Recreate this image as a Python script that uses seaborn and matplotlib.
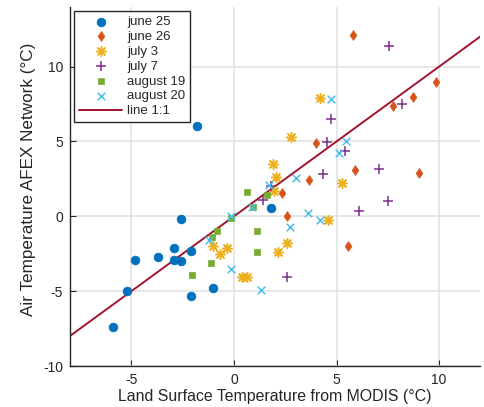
import matplotlib
matplotlib.use("Agg")
import matplotlib.pyplot as plt
import seaborn as sns
import pandas as pd

# Land surface temperature (MODIS) vs air temperature (AFEX network), per date
june25_x = [-2.6, -4.8, -3.7, -2.9, -2.9, -2.6, -2.1, -5.2, -5.9, -2.1, -1.8, 1.8, -1.0]
june25_y = [-0.2, -2.9, -2.7, -2.1, -2.95, -3.0, -2.3, -5.0, -7.4, -5.3, 6.05, 0.55, -4.8]

june26_x = [5.8, 9.85, 8.75, 7.75, 4.0, 5.9, 9.0, 3.65, 2.35, 2.6, 5.55]
june26_y = [12.1, 8.95, 7.95, 7.4, 4.9, 3.1, 2.9, 2.45, 1.55, 0.05, -1.95]

july3_x = [4.2, 2.8, 1.9, 2.05, 1.95, 5.25, 4.6, 2.6, 2.15, -1.0, -0.35, -0.7, 0.4, 0.65]
july3_y = [7.9, 5.3, 3.5, 2.65, 1.7, 2.2, -0.25, -1.8, -2.4, -1.95, -2.15, -2.55, -4.05, -4.05]

july7_x = [7.55, 8.2, 4.75, 4.55, 5.4, 4.35, 7.05, 7.5, 6.1, 1.4, 1.8, 2.6]
july7_y = [11.4, 7.5, 6.5, 4.95, 4.35, 2.85, 3.15, 1.0, 0.35, 1.1, 2.0, -4.05]

aug19_x = [0.65, 1.6, 0.95, -0.15, -0.85, -1.05, 1.1, 1.1, -1.1, -2.05]
aug19_y = [1.65, 1.4, 0.6, -0.1, -1.0, -1.35, -1.0, -2.4, -3.1, -3.9]

aug20_x = [4.75, 5.45, 5.1, 3.0, 1.7, 0.9, -0.15, 3.6, 4.2, 2.75, -1.2, -0.15, 1.3]
aug20_y = [7.85, 5.0, 4.2, 2.55, 2.1, 0.6, 0.0, 0.25, -0.25, -0.7, -1.55, -3.5, -4.9]

line_x = [-8, 12]
line_y = [-8, 12]

# upright diamond, narrower than it is tall
diamond = [(0, 1), (0.68, 0), (0, -1), (-0.68, 0), (0, 1)]

series = [
    ("june 25", june25_x, june25_y, "o", "#0072BD", 40, True),
    ("june 26", june26_x, june26_y, diamond, "#D95319", 50, True),
    ("july 3", july3_x, july3_y, (8, 2, 0), "#EDB120", 48, False),
    ("july 7", july7_x, july7_y, "+", "#7E2F8E", 45, False),
    ("august 19", aug19_x, aug19_y, "s", "#77AC30", 24, True),
    ("august 20", aug20_x, aug20_y, "x", "#4DBEEE", 30, False),
]

sns.set_theme(style="white")
plt.rcParams["font.family"] = ["Liberation Sans", "DejaVu Sans"]
plt.rcParams["axes.unicode_minus"] = False

fig = plt.figure(figsize=(4.85, 4.07), dpi=100)
ax = fig.add_axes([0.144, 0.1007, 0.846, 0.8828])

for name, xs, ys, mk, col, size, filled in series:
    df = pd.DataFrame({"x": xs, "y": ys})
    if filled:
        sns.scatterplot(data=df, x="x", y="y", marker=mk, color=col, s=size,
                        edgecolor=col, linewidth=0.5, label=name, ax=ax, zorder=3)
    else:
        sns.scatterplot(data=df, x="x", y="y", marker=mk, color=col, s=size,
                        linewidth=1.1, label=name, ax=ax, zorder=3)

sns.lineplot(x=line_x, y=line_y, color="#A2142F", linewidth=1.4,
             label="line 1:1", ax=ax, zorder=2)

ax.set_xlim(-8, 12)
ax.set_ylim(-10, 14)
ax.set_xticks([-5, 0, 5, 10])
ax.set_yticks([-10, -5, 0, 5, 10])
ax.grid(True, color="#e0e0e0", linewidth=1.1)
ax.set_axisbelow(True)

for side in ["top", "right"]:
    ax.spines[side].set_visible(False)
for side in ["left", "bottom"]:
    ax.spines[side].set_color("#262626")
    ax.spines[side].set_linewidth(1.0)

ax.tick_params(axis="both", direction="in", length=4, width=0.8,
               color="#262626", labelsize=10, labelcolor="#262626", pad=5,
               left=True, bottom=True)

ax.set_xlabel("Land Surface Temperature from MODIS (\u00b0C)", fontsize=11.4,
              color="#262626")
ax.set_ylabel("Air Temperature AFEX Network (\u00b0C)", fontsize=12.3,
              color="#262626")
ax.yaxis.set_label_coords(-0.082, 0.52)
ax.xaxis.set_label_coords(0.5, -0.065)

leg = ax.legend(loc="upper left", bbox_to_anchor=(0.004, 0.995), fontsize=9.5,
                frameon=True, fancybox=False, edgecolor="#262626",
                framealpha=1, borderpad=0.35, labelspacing=0.2,
                handlelength=3.3, handletextpad=0.35, borderaxespad=0.2)
leg.get_frame().set_linewidth(1.0)

fig.savefig("out.png", dpi=100)
